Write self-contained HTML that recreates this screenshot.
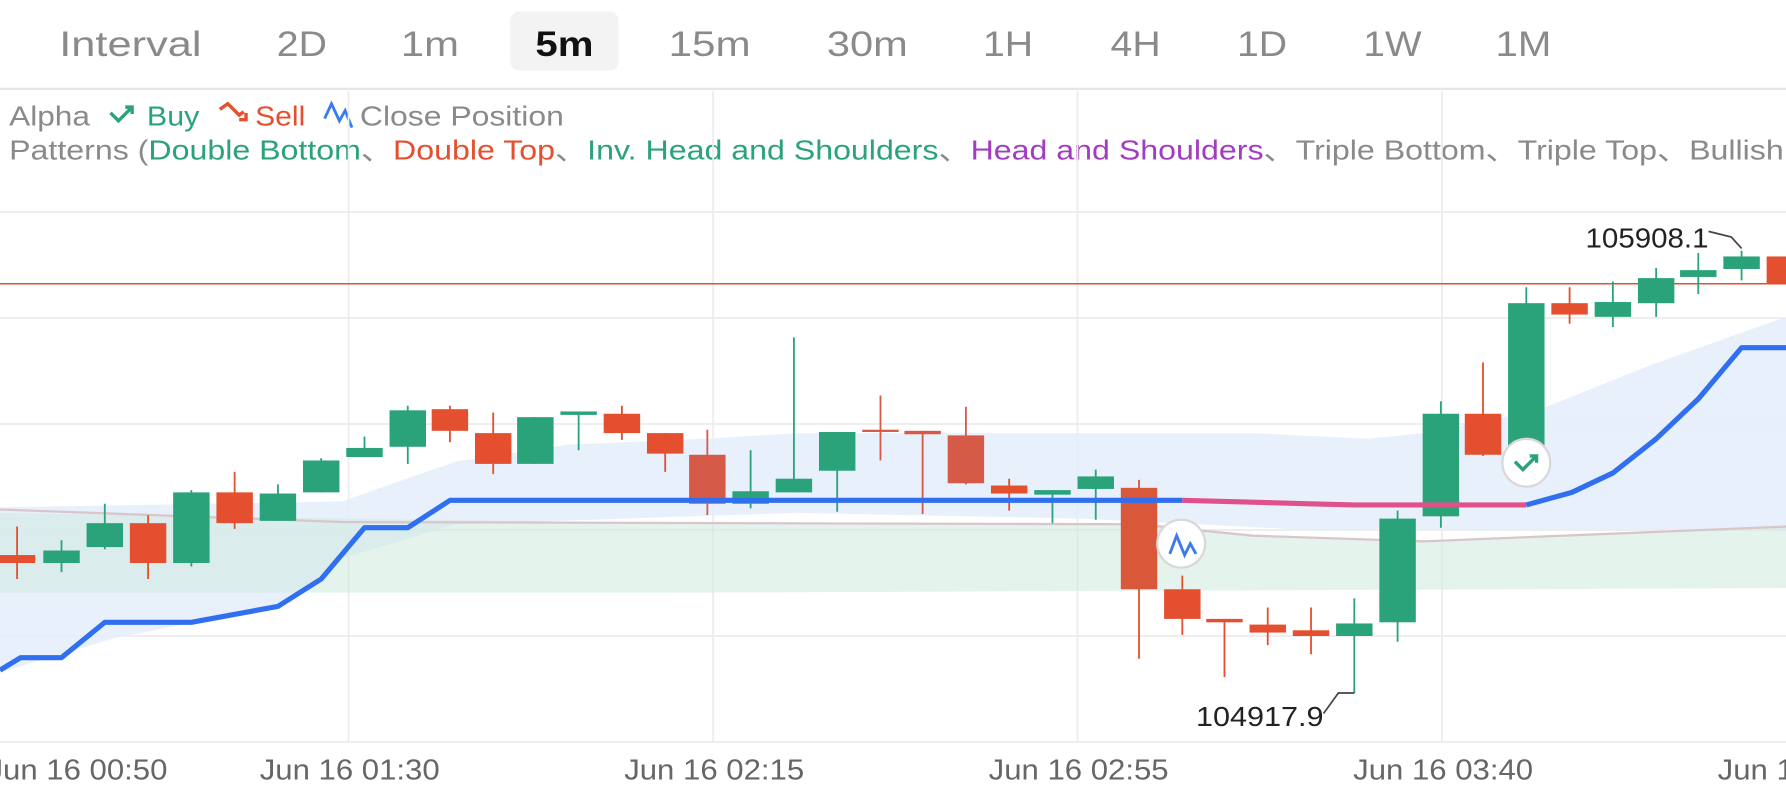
<!DOCTYPE html>
<html><head><meta charset="utf-8"><style>
html,body{margin:0;padding:0;background:#fff;overflow:hidden}
svg{display:block}
text{font-family:"Liberation Sans",sans-serif}
</style></head><body>
<svg width="1786" height="791" viewBox="0 0 1568 694" preserveAspectRatio="none" xmlns="http://www.w3.org/2000/svg">
<rect width="1568" height="694" fill="#fff"/>
<!-- tabs -->
<rect x="448" y="10" width="95" height="52" rx="8" fill="#f3f3f3"/>
<g font-size="31" fill="#8a8a8a" lengthAdjust="spacingAndGlyphs">
<text x="52" y="49" textLength="125" lengthAdjust="spacingAndGlyphs">Interval</text>
<text x="243" y="49" textLength="44" lengthAdjust="spacingAndGlyphs">2D</text>
<text x="352" y="49" textLength="51" lengthAdjust="spacingAndGlyphs">1m</text>
<text x="470" y="49" fill="#111" font-weight="bold" textLength="51" lengthAdjust="spacingAndGlyphs">5m</text>
<text x="587" y="49" textLength="72" lengthAdjust="spacingAndGlyphs">15m</text>
<text x="726" y="49" textLength="71" lengthAdjust="spacingAndGlyphs">30m</text>
<text x="863" y="49" textLength="44" lengthAdjust="spacingAndGlyphs">1H</text>
<text x="975" y="49" textLength="44" lengthAdjust="spacingAndGlyphs">4H</text>
<text x="1086" y="49" textLength="44" lengthAdjust="spacingAndGlyphs">1D</text>
<text x="1197" y="49" textLength="51" lengthAdjust="spacingAndGlyphs">1W</text>
<text x="1313" y="49" textLength="49" lengthAdjust="spacingAndGlyphs">1M</text>
</g>
<line x1="0" y1="78" x2="1568" y2="78" stroke="#e6e6e6" stroke-width="2"/>
<!-- legend -->
<g font-size="24">
<text x="8" y="110" fill="#8a8a8a" textLength="71" lengthAdjust="spacingAndGlyphs">Alpha</text>
<path d="M97 99 l7 7 l12 -12 m-6 0 h6 v6" stroke="#2ba37a" stroke-width="3" fill="none"/>
<text x="129" y="110" fill="#2ba37a" textLength="46" lengthAdjust="spacingAndGlyphs">Buy</text>
<path d="M193 96 l7 -5 l10 10 l4 -3 m-4 7 h6 v-6" stroke="#e4502f" stroke-width="3" fill="none"/>
<text x="224" y="110" fill="#e4502f" textLength="44" lengthAdjust="spacingAndGlyphs">Sell</text>
<path d="M285 104 l6 -13 l7 15 l5 -9 l6 15" stroke="#3a7bf0" stroke-width="2.5" fill="none"/>
<text x="316" y="110" fill="#8a8a8a" textLength="179" lengthAdjust="spacingAndGlyphs">Close Position</text>
<text x="8" y="140" fill="#8a8a8a" textLength="1558" lengthAdjust="spacingAndGlyphs">Patterns (<tspan fill="#2ba37a">Double Bottom</tspan>、<tspan fill="#e4502f">Double Top</tspan>、<tspan fill="#2ba37a">Inv. Head and Shoulders</tspan>、<tspan fill="#a43cc0">Head and Shoulders</tspan>、Triple Bottom、Triple Top、Bullish</text>
</g>
<!-- grid -->
<g stroke="#ececec" stroke-width="1.5">
<line x1="0" y1="186" x2="1568" y2="186"/><line x1="0" y1="279" x2="1568" y2="279"/>
<line x1="0" y1="372" x2="1568" y2="372"/><line x1="0" y1="465" x2="1568" y2="465"/>
<line x1="0" y1="558" x2="1568" y2="558"/><line x1="0" y1="651" x2="1568" y2="651"/>
<line x1="306" y1="80" x2="306" y2="651"/><line x1="626" y1="80" x2="626" y2="651"/>
<line x1="946" y1="80" x2="946" y2="651"/><line x1="1266" y1="80" x2="1266" y2="651"/>
</g>
<!-- bands -->
<path d="M0 445 L300 440 L400 405 L500 390 L620 385 L700 380 L1000 380 L1100 380 L1200 385 L1250 380 L1350 360 L1450 320 L1568 278 L1568 465 L1150 465 L1050 460 L950 455 L700 450 L400 460 L300 490 L250 530 L100 560 L0 590 Z" fill="#e4edfb" opacity="0.85"/>
<path d="M0 450 L300 455 L700 460 L1000 460 L1100 470 L1250 475 L1568 462 L1568 516 L600 520 L0 520 Z" fill="#cfe9df" opacity="0.55"/>
<polyline points="0,447 300,458 1000,460 1100,470 1250,475 1568,462" fill="none" stroke="#d9c6cc" stroke-width="2"/>
<line x1="0" y1="249" x2="1568" y2="249" stroke="#e4502f" stroke-width="1.3"/>
<!-- candles -->
<g stroke-width="1.6">
<line x1="15" y1="462" x2="15" y2="508" stroke="#e4502f"/><rect x="-1" y="487" width="32" height="7" fill="#e4502f"/>
<line x1="54" y1="474" x2="54" y2="502" stroke="#2ba37a"/><rect x="38" y="483" width="32" height="11" fill="#2ba37a"/>
<line x1="92" y1="442" x2="92" y2="482" stroke="#2ba37a"/><rect x="76" y="459" width="32" height="21" fill="#2ba37a"/>
<line x1="130" y1="452" x2="130" y2="508" stroke="#e4502f"/><rect x="114" y="459" width="32" height="35" fill="#e4502f"/>
<line x1="168" y1="430" x2="168" y2="497" stroke="#2ba37a"/><rect x="152" y="432" width="32" height="62" fill="#2ba37a"/>
<line x1="206" y1="414" x2="206" y2="464" stroke="#e4502f"/><rect x="190" y="432" width="32" height="27" fill="#e4502f"/>
<line x1="244" y1="425" x2="244" y2="457" stroke="#2ba37a"/><rect x="228" y="433" width="32" height="24" fill="#2ba37a"/>
<line x1="282" y1="402" x2="282" y2="432" stroke="#2ba37a"/><rect x="266" y="404" width="32" height="28" fill="#2ba37a"/>
<line x1="320" y1="383" x2="320" y2="401" stroke="#2ba37a"/><rect x="304" y="393" width="32" height="8" fill="#2ba37a"/>
<line x1="358" y1="356" x2="358" y2="407" stroke="#2ba37a"/><rect x="342" y="360" width="32" height="32" fill="#2ba37a"/>
<line x1="395" y1="356" x2="395" y2="388" stroke="#e4502f"/><rect x="379" y="359" width="32" height="19" fill="#e4502f"/>
<line x1="433" y1="362" x2="433" y2="416" stroke="#e4502f"/><rect x="417" y="380" width="32" height="27" fill="#e4502f"/>
<line x1="470" y1="366" x2="470" y2="407" stroke="#2ba37a"/><rect x="454" y="366" width="32" height="41" fill="#2ba37a"/>
<line x1="508" y1="362" x2="508" y2="395" stroke="#2ba37a"/><rect x="492" y="361" width="32" height="3" fill="#2ba37a"/>
<line x1="546" y1="356" x2="546" y2="386" stroke="#e4502f"/><rect x="530" y="363" width="32" height="17" fill="#e4502f"/>
<line x1="584" y1="380" x2="584" y2="414" stroke="#e4502f"/><rect x="568" y="380" width="32" height="18" fill="#e4502f"/>
<line x1="621" y1="377" x2="621" y2="452" stroke="#d65a48"/><rect x="605" y="399" width="32" height="43" fill="#d65a48"/>
<line x1="659" y1="395" x2="659" y2="446" stroke="#2ba37a"/><rect x="643" y="431" width="32" height="11" fill="#2ba37a"/>
<line x1="697" y1="296" x2="697" y2="432" stroke="#2ba37a"/><rect x="681" y="420" width="32" height="12" fill="#2ba37a"/>
<line x1="735" y1="379" x2="735" y2="449" stroke="#2ba37a"/><rect x="719" y="379" width="32" height="34" fill="#2ba37a"/>
<line x1="773" y1="347" x2="773" y2="404" stroke="#d65a48"/><rect x="757" y="377" width="32" height="2" fill="#d65a48"/>
<line x1="810" y1="378" x2="810" y2="451" stroke="#d65a48"/><rect x="794" y="378" width="32" height="3" fill="#d65a48"/>
<line x1="848" y1="357" x2="848" y2="425" stroke="#d65a48"/><rect x="832" y="382" width="32" height="42" fill="#d65a48"/>
<line x1="886" y1="420" x2="886" y2="448" stroke="#e4502f"/><rect x="870" y="426" width="32" height="7" fill="#e4502f"/>
<line x1="924" y1="430" x2="924" y2="459" stroke="#2ba37a"/><rect x="908" y="430" width="32" height="4" fill="#2ba37a"/>
<line x1="962" y1="412" x2="962" y2="456" stroke="#2ba37a"/><rect x="946" y="418" width="32" height="11" fill="#2ba37a"/>
<line x1="1000" y1="421" x2="1000" y2="578" stroke="#e4502f"/><rect x="984" y="428" width="32" height="89" fill="#d9583a"/>
<line x1="1038" y1="505" x2="1038" y2="557" stroke="#e4502f"/><rect x="1022" y="517" width="32" height="26" fill="#e4502f"/>
<line x1="1075" y1="543" x2="1075" y2="594" stroke="#e4502f"/><rect x="1059" y="543" width="32" height="3" fill="#e4502f"/>
<line x1="1113" y1="533" x2="1113" y2="566" stroke="#e4502f"/><rect x="1097" y="548" width="32" height="7" fill="#e4502f"/>
<line x1="1151" y1="533" x2="1151" y2="574" stroke="#e4502f"/><rect x="1135" y="553" width="32" height="5" fill="#e4502f"/>
<line x1="1189" y1="525" x2="1189" y2="608" stroke="#2ba37a"/><rect x="1173" y="547" width="32" height="11" fill="#2ba37a"/>
<line x1="1227" y1="448" x2="1227" y2="563" stroke="#2ba37a"/><rect x="1211" y="455" width="32" height="91" fill="#2ba37a"/>
<line x1="1265" y1="352" x2="1265" y2="463" stroke="#2ba37a"/><rect x="1249" y="363" width="32" height="90" fill="#2ba37a"/>
<line x1="1302" y1="318" x2="1302" y2="400" stroke="#e4502f"/><rect x="1286" y="363" width="32" height="36" fill="#e4502f"/>
<line x1="1340" y1="252" x2="1340" y2="392" stroke="#2ba37a"/><rect x="1324" y="266" width="32" height="126" fill="#2ba37a"/>
<line x1="1378" y1="252" x2="1378" y2="284" stroke="#e4502f"/><rect x="1362" y="266" width="32" height="10" fill="#e4502f"/>
<line x1="1416" y1="247" x2="1416" y2="287" stroke="#2ba37a"/><rect x="1400" y="265" width="32" height="13" fill="#2ba37a"/>
<line x1="1454" y1="235" x2="1454" y2="278" stroke="#2ba37a"/><rect x="1438" y="244" width="32" height="22" fill="#2ba37a"/>
<line x1="1491" y1="222" x2="1491" y2="258" stroke="#2ba37a"/><rect x="1475" y="237" width="32" height="6" fill="#2ba37a"/>
<line x1="1529" y1="220" x2="1529" y2="246" stroke="#2ba37a"/><rect x="1513" y="225" width="32" height="11" fill="#2ba37a"/>
<rect x="1551" y="225" width="32" height="24" fill="#e4502f"/>
</g>
<!-- lines -->
<polyline points="0,588 18,577 54,577 92,546 168,546 244,532 282,508 320,463 358,463 395,439 1038,439" fill="none" stroke="#2f6ff0" stroke-width="4.5" stroke-linejoin="round"/>
<polyline points="1038,439 1150,442 1189,443 1340,443" fill="none" stroke="#e0508a" stroke-width="4.5"/>
<polyline points="1340,443 1380,432 1416,415 1454,385 1491,350 1529,305 1568,305" fill="none" stroke="#2f6ff0" stroke-width="4.5" stroke-linejoin="round"/>
<!-- markers -->
<circle cx="1037" cy="477" r="21" fill="#fff" stroke="#d8d8d8" stroke-width="2"/>
<path d="M1027 486 l6 -16 l7 17 l5 -10 l5 9" stroke="#3a7bf0" stroke-width="2.5" fill="none"/>
<circle cx="1340" cy="406" r="21" fill="#fff" stroke="#d8d8d8" stroke-width="2"/>
<path d="M1330 405 l7 7 l12 -12 m-6 0 h6 v6" stroke="#2ba37a" stroke-width="3" fill="none"/>
<!-- annotations -->
<g font-size="24" fill="#222">
<text x="1392" y="217" textLength="108" lengthAdjust="spacingAndGlyphs">105908.1</text>
<text x="1050" y="637" textLength="112" lengthAdjust="spacingAndGlyphs">104917.9</text>
</g>
<polyline points="1500,203 1520,208 1529,218" fill="none" stroke="#444" stroke-width="1.5"/>
<polyline points="1162,626 1175,608 1189,608" fill="none" stroke="#444" stroke-width="1.5"/>
<!-- x labels -->
<g font-size="25" fill="#666" text-anchor="middle">
<text x="68" y="684" textLength="158" lengthAdjust="spacingAndGlyphs">Jun 16 00:50</text>
<text x="307" y="684" textLength="158" lengthAdjust="spacingAndGlyphs">Jun 16 01:30</text>
<text x="627" y="684" textLength="158" lengthAdjust="spacingAndGlyphs">Jun 16 02:15</text>
<text x="947" y="684" textLength="158" lengthAdjust="spacingAndGlyphs">Jun 16 02:55</text>
<text x="1267" y="684" textLength="158" lengthAdjust="spacingAndGlyphs">Jun 16 03:40</text>
<text x="1587" y="684" textLength="158" lengthAdjust="spacingAndGlyphs">Jun 16 04:20</text>
</g>
</svg>
</body></html>
